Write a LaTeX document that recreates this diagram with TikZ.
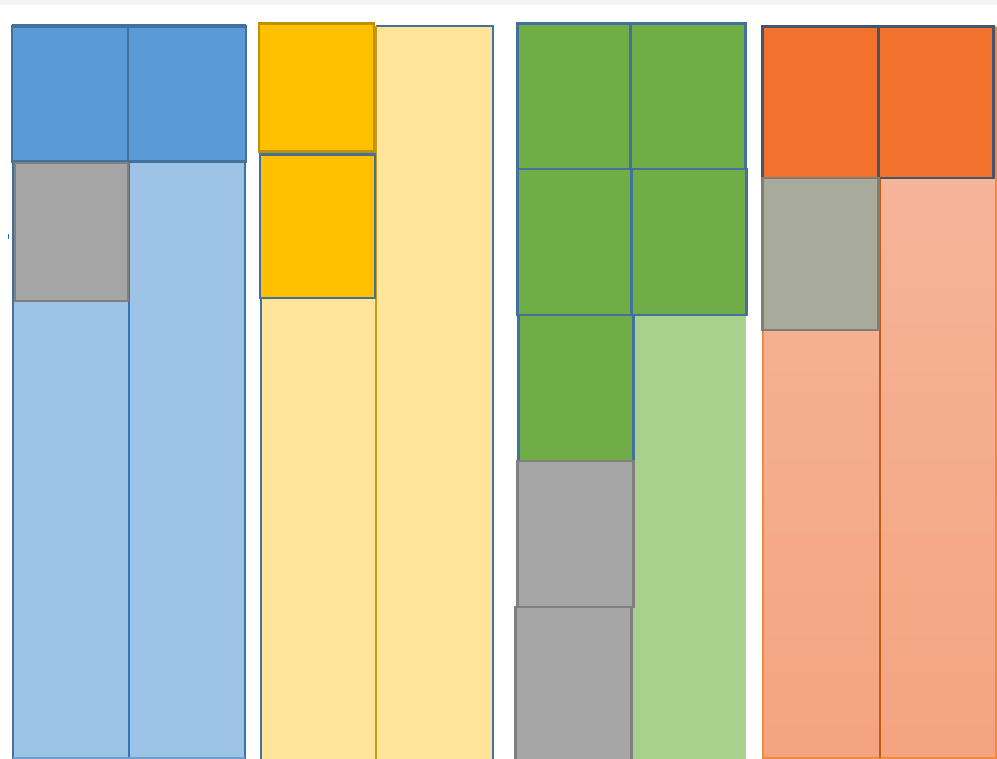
\documentclass[tikz,border=0pt]{standalone}
\usepackage{tikz}
\usetikzlibrary{positioning}
\usepackage{xcolor}

\definecolor{blueDark}{HTML}{5B9BD5}
\definecolor{blueLight}{HTML}{9DC3E6}
\definecolor{blueLine}{HTML}{41719C}
\definecolor{blueEdge}{HTML}{2E75B6}
\definecolor{goldDark}{HTML}{FFC000}
\definecolor{goldLight}{HTML}{FFE499}
\definecolor{goldLine}{HTML}{BF9000}
\definecolor{greenDark}{HTML}{70AD47}
\definecolor{greenLight}{HTML}{A9D18E}
\definecolor{orangeDark}{HTML}{F2712D}
\definecolor{orangeTop}{HTML}{F5B9A0}
\definecolor{orangeBot}{HTML}{F4A47F}
\definecolor{orangeEdge}{HTML}{F08A3C}
\definecolor{orangeLine}{HTML}{C55A11}
\definecolor{slateLine}{HTML}{44546A}
\definecolor{grayFill}{HTML}{A5A5A5}
\definecolor{grayLine}{HTML}{7F7F7F}
\definecolor{sageFill}{HTML}{A8AA9B}
\definecolor{sageLine}{HTML}{7E7F72}
\definecolor{bandGray}{HTML}{F4F4F4}

\begin{document}
\begin{tikzpicture}[x=0.02cm, y=-0.02cm, line join=miter,
    edge/.style={line width=1.3pt},
    cell/.style={line width=1.7pt}]
            \useasboundingbox (0,0) rectangle (997,759);
            \fill[white] (0,0) rectangle (997,759);
            \fill[bandGray] (0,0) rectangle (997,5);

            % --- Blue stack ---
            \fill[blueLight] (13,27) rectangle (245,758);
            \draw[edge,blueLine] (13,759) -- (13,25) -- (245,25) -- (245,759);
            \draw[edge,blueEdge] (129,162) -- (129,759);
            \draw[edge,blueEdge!70] (13,758) -- (245,758);
            \draw[cell,fill=blueDark,draw=blueLine] (12,27) rectangle (128,162);
            \draw[cell,fill=blueDark,draw=blueLine] (128,27) rectangle (246,162);
            \draw[cell,fill=grayFill,draw=grayLine] (15,163) rectangle (128,301);
            \fill[blueEdge] (7.5,234) rectangle (9,239);

            % --- Yellow stack ---
            \fill[goldLight] (261,26) rectangle (493,759);
            \draw[edge,blueLine] (261,759) -- (261,298);
            \draw[edge,blueLine] (376,26) -- (493,26) -- (493,759);
            \draw[edge,goldLine!90] (376,26) -- (376,759);
            \draw[cell,fill=goldDark,draw=goldLine] (259,24) rectangle (374,152);
            \draw[cell,fill=goldDark,draw=blueLine] (260,155) rectangle (375,298);

            % --- Green stack ---
            \fill[greenLight] (517,24) rectangle (746,759);
            \draw[cell,fill=greenDark,draw=blueLine] (517,24) rectangle (630,169);
            \draw[cell,fill=greenDark,draw=blueLine] (630,24) rectangle (745,169);
            \draw[cell,fill=greenDark,draw=blueLine] (517,169) rectangle (631,315);
            \draw[cell,fill=greenDark,draw=blueLine] (631,169) rectangle (746,315);
            \draw[cell,fill=greenDark,draw=blueLine] (518,315) rectangle (633,461);
            \draw[cell,fill=grayFill,draw=grayLine] (517,461) rectangle (633,607);
            \draw[cell,fill=grayFill,draw=grayLine] (515,607) rectangle (631,762);

            % --- Orange stack ---
            \shade[top color=orangeTop, bottom color=orangeBot] (763,27) rectangle (997,758);
            \draw[edge,orangeEdge] (763,27) -- (763,758) -- (997,758);
            \draw[edge,orangeEdge] (996,27) -- (996,758);
            \draw[edge,orangeLine] (880,178) -- (880,758);
            \draw[cell,fill=orangeDark,draw=slateLine] (762,27) rectangle (878,178);
            \draw[cell,fill=orangeDark,draw=slateLine] (878,27) rectangle (993,178);
            \draw[cell,fill=sageFill,draw=sageLine] (762,178) rectangle (878,330);
        \end{tikzpicture}
\end{document}
